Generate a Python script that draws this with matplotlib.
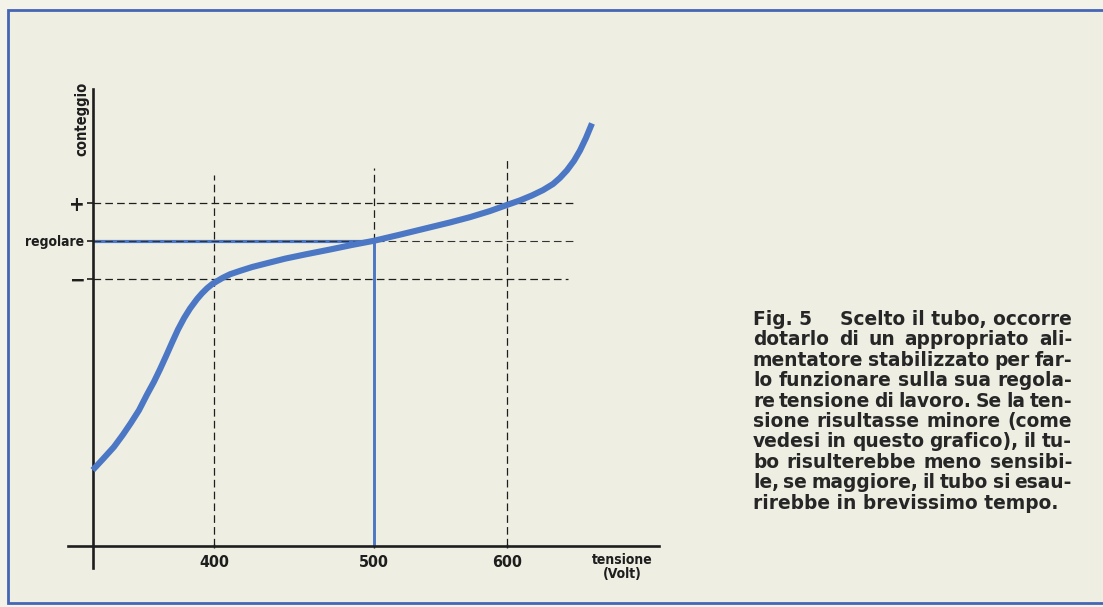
import numpy as np
import matplotlib
matplotlib.use("Agg")
import matplotlib.pyplot as plt
from matplotlib.patches import Rectangle
from matplotlib import font_manager

# conteggio vs tensione
volt = [324.2, 330.6, 337.5, 343.1, 348.1, 353.1, 358.1, 362.5, 366.3, 370.0, 373.8,
        377.5, 381.3, 385.0, 389.4, 392.5, 395.6, 398.8, 401.9, 405.6, 410.0, 416.3,
        423.8, 433.1, 444.4, 456.9, 472.5, 486.3, 500.0, 519.5, 538.3, 557.1, 572.2,
        587.2, 600.0, 609.8, 618.8, 627.1, 634.6, 639.8, 645.1, 650.4, 654.9, 659.4, 663.9]
count = [1.98, 2.27, 2.59, 2.91, 3.22, 3.55, 3.96, 4.30, 4.63, 4.97, 5.33,
         5.67, 5.97, 6.22, 6.47, 6.62, 6.75, 6.86, 6.94, 7.03, 7.12, 7.21,
         7.31, 7.41, 7.53, 7.64, 7.77, 7.89, 8.00, 8.16, 8.32, 8.48, 8.62,
         8.78, 8.94, 9.06, 9.19, 9.33, 9.49, 9.65, 9.85, 10.10, 10.37, 10.70, 11.08]

x_ticks = [400, 500, 600]
x_tick_labels = ["400", "500", "600"]
levels = [7, 8, 9]
level_labels = ["\u2212", "regolare", "+"]
v_regolare = 500

caption = [
    ["Fig. 5", "Scelto il tubo, occorre"],
    "dotarlo di un appropriato ali-".split(),
    "mentatore stabilizzato per far-".split(),
    "lo funzionare sulla sua regola-".split(),
    "re tensione di lavoro. Se la ten-".split(),
    "sione risultasse minore (come".split(),
    "vedesi in questo grafico), il tu-".split(),
    "bo risulterebbe meno sensibi-".split(),
    "le, se maggiore, il tubo si esau-".split(),
    "rirebbe in brevissimo tempo.".split(),
]

W, H = 1103, 607
BLUE = "#4b77c4"
INK = "#1e1e1e"

plt.rcParams["lines.scale_dashes"] = False

# condensed face for the chart lettering if there is one, else just smaller type
_f = font_manager.findfont(font_manager.FontProperties(family="DejaVu Sans", stretch="condensed",
                                                        weight="bold"))
SHRINK = 1.0 if "Condensed" in _f else 0.82
lab_kw = dict(family="DejaVu Sans", stretch="condensed", fontweight="bold", color=INK)

# the axis was drawn by hand: 100 V is not the same length everywhere
KNOT_V = [0, 400, 500, 600, 1000]
KNOT_P = [-426, 214, 374, 507, 1039]
fwd = lambda v: np.interp(v, KNOT_V, KNOT_P)
inv = lambda p: np.interp(p, KNOT_P, KNOT_V)

fig = plt.figure(figsize=(W / 100, H / 100), dpi=100, facecolor="#f3f3ea")
fig.patches.append(Rectangle((8 / W, 4 / H), 1.2, 593 / H, transform=fig.transFigure,
                             facecolor="#eeeee2", edgecolor="#4565b5", linewidth=2.0, zorder=-10))

ax = fig.add_axes([60 / W, 17 / H, 640 / W, 510 / H])
ax.set_facecolor("none")
ax.set_xscale("function", functions=(fwd, inv))
ax.set_xlim(float(inv(60)), float(inv(700)))
ax.set_ylim(-1.168, 12.22)

v0 = volt[0]
for s in ["top", "right"]:
    ax.spines[s].set_visible(False)
ax.spines["left"].set_position(("data", v0))
ax.spines["left"].set_bounds(-0.59, 11.98)
ax.spines["bottom"].set_position(("data", 0))
ax.spines["bottom"].set_bounds(309, 714)
for s in ["left", "bottom"]:
    ax.spines[s].set_linewidth(1.9)
    ax.spines[s].set_color(INK)

dash = (0, (5.5, 3.0))
# horizontal guides
ax.plot([v0, 653], [levels[2]] * 2, color=INK, lw=0.9, ls=dash)
ax.plot([v0, v_regolare], [levels[1]] * 2, color=BLUE, lw=2.3, solid_capstyle="butt")
ax.plot([v0, 653], [levels[1]] * 2, color="#333", lw=0.8, ls=dash)
ax.plot([v0, 646], [levels[0]] * 2, color=INK, lw=0.9, ls=dash)
# vertical guides
ax.plot([400, 400], [0, 9.73], color=INK, lw=0.9, ls=dash)
ax.plot([500, 500], [levels[1], 9.90], color=INK, lw=0.9, ls=dash)
ax.plot([500, 500], [0, levels[1]], color=BLUE, lw=2.1, solid_capstyle="butt")
ax.plot([600, 600], [0, 10.12], color=INK, lw=0.9, ls=dash)

ax.plot(volt, count, color=BLUE, lw=4.4, solid_capstyle="butt", solid_joinstyle="round", zorder=5)

ax.set_xticks(x_ticks, x_tick_labels)
ax.tick_params(axis="x", length=3, width=1, direction="inout", pad=5, colors=INK)
for t in ax.get_xticklabels():
    t.update(lab_kw)
    t.set_fontsize(11.5 * SHRINK)

ax.set_yticks(levels, level_labels)
ax.tick_params(axis="y", length=4, width=1.2, pad=2, colors=INK)
for t in ax.get_yticklabels():
    t.update(lab_kw)
    t.set_fontsize(10 * SHRINK if t.get_text() == "regolare" else 15)

ax.text(317.5, 11.19, "conteggio", rotation=90, ha="center", va="center",
        fontsize=10.5 * SHRINK, **lab_kw)
ax.text(687, -0.56, "tensione\n(Volt)", ha="center", va="center", linespacing=0.95,
        fontsize=10 * SHRINK, **lab_kw)

# caption, justified like the printed column
cap_kw = dict(family="DejaVu Sans", fontweight="bold", fontsize=12, color="#262626")
renderer = fig.canvas.get_renderer()


def width_px(s):
    t = fig.text(0, 0, s, **cap_kw)
    w = t.get_window_extent(renderer).width
    t.remove()
    return w


# size the type so the last (unjustified) line is as long as in print
cap_kw["fontsize"] *= 305 / width_px(" ".join(caption[-1]))

x_left, x_right, base0, step = 753, 1072, 325, 20.4
for i, words in enumerate(caption):
    yb = 1 - (base0 + i * step) / H
    if i == len(caption) - 1:
        fig.text(x_left / W, yb, " ".join(words), va="baseline", ha="left", **cap_kw)
        continue
    ws = [width_px(w) for w in words]
    gap = (x_right - x_left - sum(ws)) / (len(words) - 1)
    x = x_left
    for w, wd in zip(words, ws):
        fig.text(x / W, yb, w, va="baseline", ha="left", **cap_kw)
        x += wd + gap

fig.savefig("out.png", dpi=100, facecolor=fig.get_facecolor())
